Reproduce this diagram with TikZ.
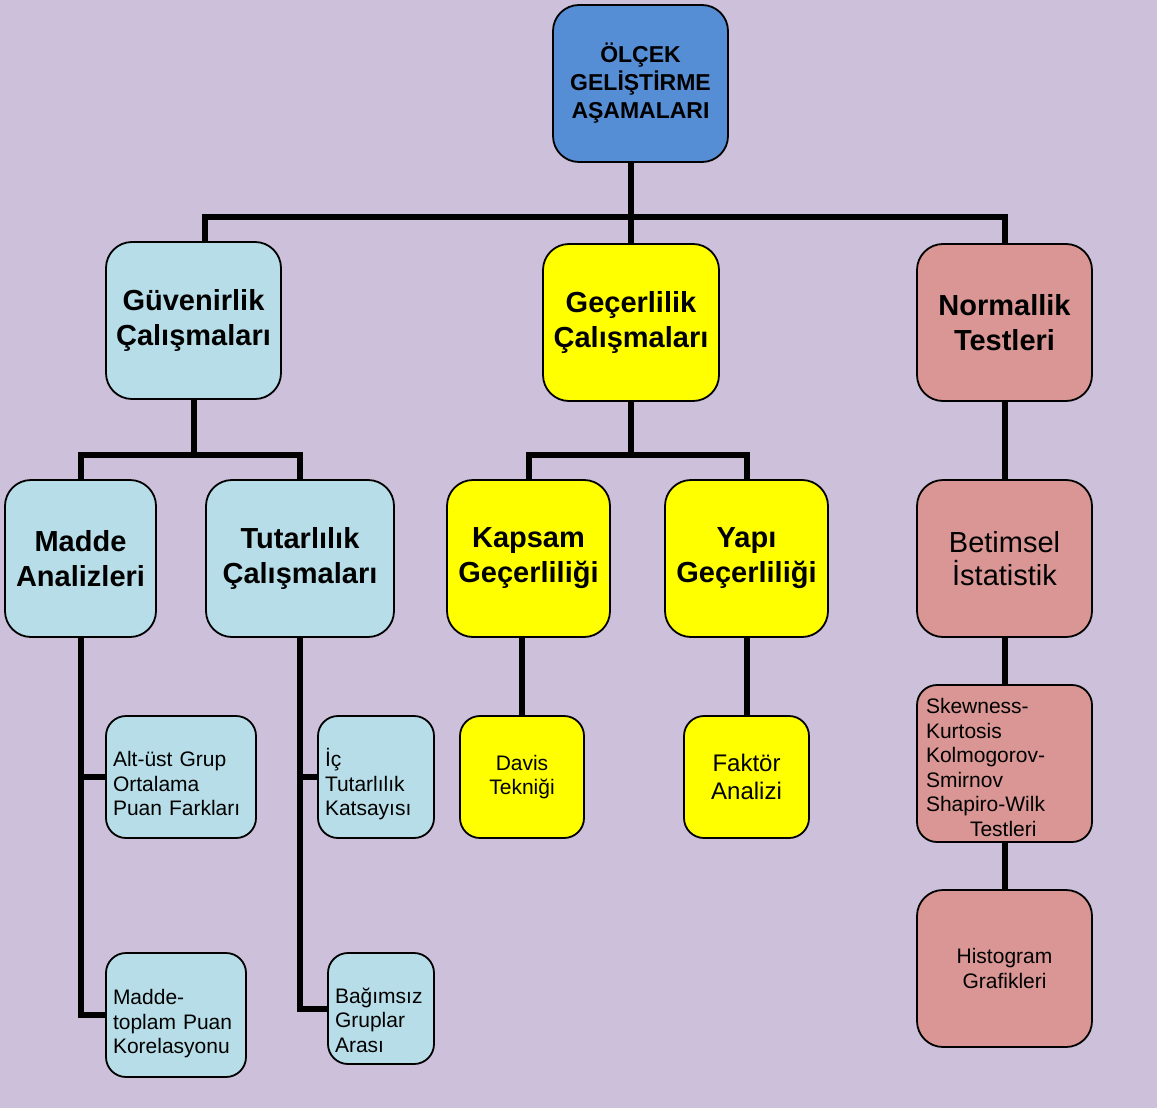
\documentclass[tikz,border=0pt]{standalone}
\usepackage{fontspec}
\setmainfont{Liberation Sans}
\usetikzlibrary{positioning, backgrounds}

\definecolor{bglilac}{HTML}{CCC0DA}
\definecolor{rootblue}{HTML}{558ED5}
\definecolor{relcyan}{HTML}{B7DEE8}
\definecolor{valyellow}{HTML}{FFFF00}
\definecolor{normpink}{HTML}{D99694}

\begin{document}
\begin{tikzpicture}[
    x=1pt, y=1pt,
    box/.style={draw=black, line width=1.8pt, rounded corners=26pt, outer sep=0pt, inner sep=4pt, align=center},
    rootbox/.style={box, fill=rootblue, minimum width=175pt, minimum height=157pt, font=\fontsize{23}{28}\selectfont\bfseries},
    mainbox/.style={box, minimum height=157pt, font=\fontsize{29}{35}\selectfont\bfseries},
    leafbox/.style={box, rounded corners=20pt, minimum height=122pt, font=\fontsize{21}{24.5}\selectfont},
    notebox/.style={leafbox, align=left, text width=#1, inner xsep=7pt},
    drop/.style={execute at begin node={\rule{0pt}{#1}}},
    link/.style={line width=6pt}
]

\node[rootbox] (olcek) at (640.5,-83.5) {ÖLÇEK\\GELİŞTİRME\\AŞAMALARI};

\node[mainbox, fill=valyellow, minimum width=176pt, below=82pt of olcek, xshift=-9.5pt] (gecerlilik) {Geçerlilik\\Çalışmaları};
\node[mainbox, fill=relcyan, minimum width=175pt, left=262pt of gecerlilik, yshift=2pt] (guvenirlik) {Güvenirlik\\Çalışmaları};
\node[mainbox, fill=normpink, minimum width=175pt, right=198pt of gecerlilik] (normallik) {Normallik\\Testleri};

\node[mainbox, fill=relcyan, minimum width=151pt, below=81pt of guvenirlik, xshift=-113pt] (madde) {Madde\\Analizleri};
\node[mainbox, fill=relcyan, minimum width=188pt, right=50pt of madde] (tutarlilik) {Tutarlılık\\Çalışmaları};
\node[mainbox, fill=valyellow, minimum width=163pt, below=79pt of gecerlilik, xshift=-102.5pt] (kapsam) {Kapsam\\Geçerliliği};
\node[mainbox, fill=valyellow, minimum width=163pt, right=55pt of kapsam] (yapi) {Yapı\\Geçerliliği};
\node[mainbox, fill=normpink, minimum width=175pt, below=79pt of normallik, font=\fontsize{29}{33}\selectfont] (betimsel) {Betimsel\\İstatistik};

\node[notebox=136pt, drop=29pt, fill=relcyan, below=79pt of madde, xshift=100.5pt] (altust) {Alt-üst Grup\\Ortalama\\Puan Farkları};
\node[notebox=126pt, drop=33pt, fill=relcyan, minimum height=124pt, below=115pt of altust, xshift=-5pt] (toplam) {Madde-\\toplam Puan\\Korelasyonu};
\node[notebox=102pt, drop=33pt, fill=relcyan, below=79pt of tutarlilik, xshift=76pt] (ic) {İç\\Tutarlılık\\Katsayısı};
\node[notebox=92pt, drop=39pt, fill=relcyan, minimum height=111pt, below=115pt of ic, xshift=5pt] (bagimsiz) {Bağımsız\\Gruplar\\Arası};
\node[leafbox, fill=valyellow, minimum width=124pt, below=79pt of kapsam, xshift=-6.5pt] (davis) {Davis\\Tekniği};
\node[leafbox, fill=valyellow, minimum width=125pt, below=79pt of yapi, font=\fontsize{24}{28}\selectfont] (faktor) {Faktör\\Analizi};
\node[notebox=157pt, drop=23pt, fill=normpink, inner xsep=9pt, minimum height=157pt, below=48pt of betimsel] (skew) {Skewness-\\Kurtosis\\Kolmogorov-\\Smirnov\\Shapiro-Wilk\\\hspace*{44pt}Testleri};
\node[leafbox, fill=normpink, rounded corners=26pt, minimum width=175pt, minimum height=157pt, below=48pt of skew] (histogram) {Histogram\\Grafikleri};

% ana dallar
\coordinate (fork) at ([yshift=-55pt]olcek.south);
\draw[link] (olcek.south -| gecerlilik.north) -- (gecerlilik.north);
\draw[link] ([xshift=11.5pt]guvenirlik.north) |- (fork -| normallik.north) -- (normallik.north);

\draw[link] (guvenirlik.south) -- ++(0,-56pt) coordinate (gfork);
\draw[link] (madde.north) |- (gfork) -| (tutarlilik.north);
\draw[link] (gecerlilik.south) -- ++(0,-54pt) coordinate (cfork);
\draw[link] (kapsam.north) |- (cfork) -| (yapi.north);
\draw[link] (normallik.south) -- (betimsel.north);

\draw[link] (madde.south) |- (toplam.west);
\draw[link] (madde.south |- altust.west) -- (altust.west);
\draw[link] (tutarlilik.south) |- (bagimsiz.west);
\draw[link] (tutarlilik.south |- ic.west) -- (ic.west);
\draw[link] (kapsam.south -| davis.north) -- (davis.north);
\draw[link] (yapi.south) -- (faktor.north);
\draw[link] (betimsel.south) -- (skew.north);
\draw[link] (skew.south) -- (histogram.north);

\begin{scope}[on background layer]
    \fill[bglilac] (0,0) rectangle (1157,-1108);
\end{scope}

\end{tikzpicture}
\end{document}
